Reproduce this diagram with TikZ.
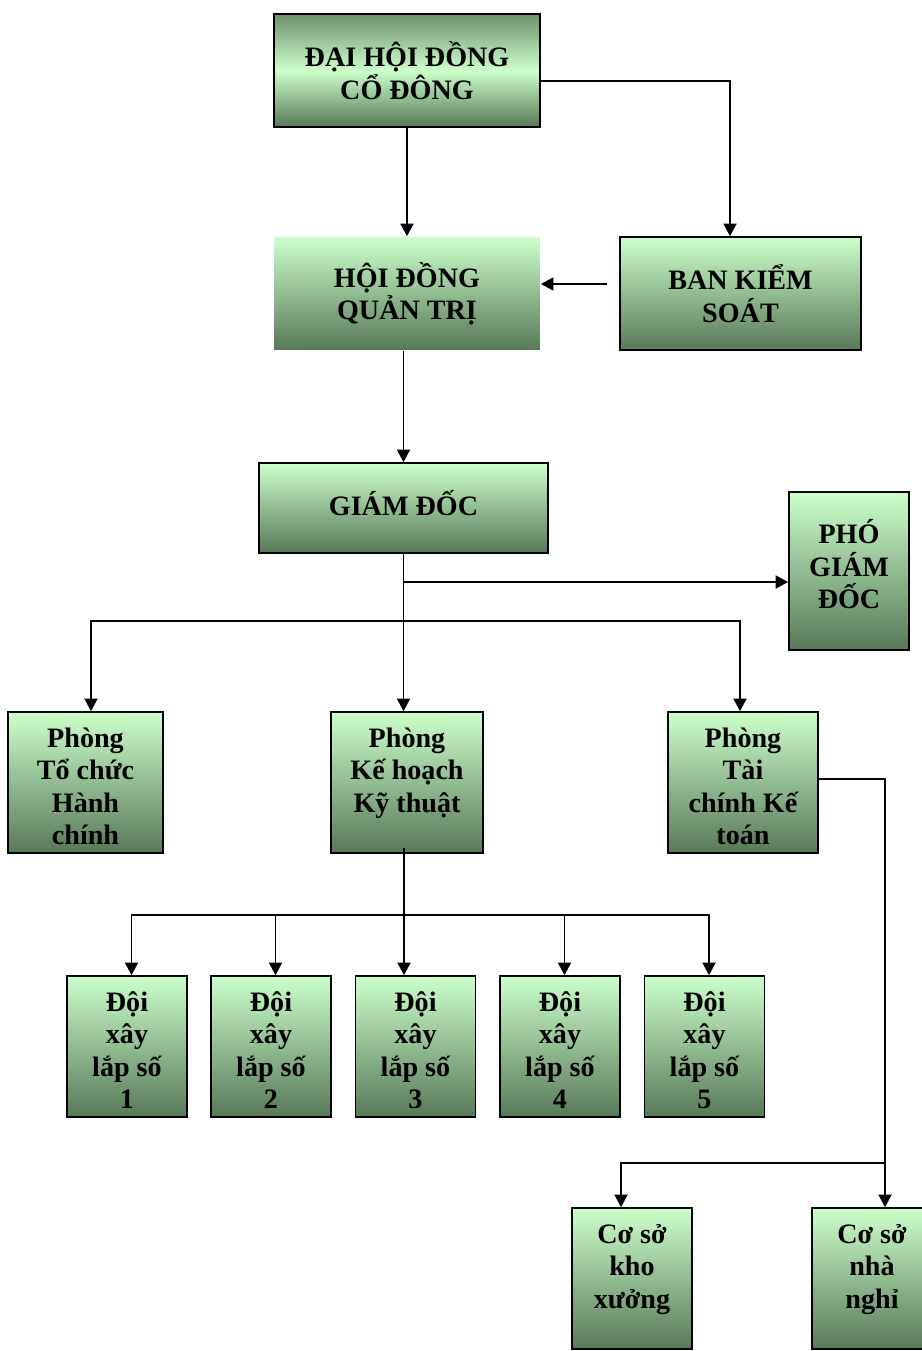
\documentclass[tikz,border=0pt]{standalone}
\usepackage{fontspec}
\setmainfont{Liberation Serif}
\usetikzlibrary{arrows.meta,calc}
\definecolor{gtop}{HTML}{CCFFCC}
\definecolor{gbot}{HTML}{587858}
\definecolor{gedge}{HTML}{6E906E}
\newcommand{\hi}{\rule{0pt}{15.5pt}}
\tikzset{
  box/.style  = {draw, line width=1pt, rectangle, align=center, inner sep=0pt,
                 top color=gtop, bottom color=gbot,
                 font=\fontsize{16}{18.5}\selectfont\bfseries},
  flow/.style = {-{Triangle[length=2.5mm,width=2.6mm]}, line width=0.9pt},
  link/.style = {line width=0.9pt},
}

\begin{document}
\begin{tikzpicture}[x=0.02cm,y=-0.02cm]
\useasboundingbox (0,0) rectangle (922,1351);
\clip (0,0) rectangle (922,1351);
% top levels
\node[box, minimum width=5.32cm, minimum height=2.26cm,
      top color=gedge, bottom color=gbot, middle color=gtop] (dhcd) at (407,70.5) {ĐẠI HỘI ĐỒNG\\CỔ ĐÔNG};
\node[box, draw=none, minimum width=5.32cm, minimum height=2.26cm] (hdqt) at (407,293.5) {HỘI ĐỒNG\\QUẢN TRỊ};
\node[box, minimum width=4.82cm, minimum height=2.26cm] (bks) at (740.5,293.5) {BAN KIỂM\\SOÁT};
\node[box, minimum width=5.78cm, minimum height=1.8cm, text depth=0.2cm] (gd) at (403.5,508) {GIÁM ĐỐC};
\node[box, minimum width=2.4cm, minimum height=3.16cm, text depth=0.28cm] (pgd) at (849,571) {PHÓ\\GIÁM\\ĐỐC};
% phong ban
\node[box, minimum width=3.1cm, minimum height=2.82cm] (tchc) at (85.5,782.5) {\hi Phòng\\Tổ chức\\Hành\\chính};
\node[box, minimum width=3.04cm, minimum height=2.82cm] (khkt) at (407,782.5) {\hi Phòng\\Kế hoạch\\Kỹ thuật\\\mbox{}};
\node[box, minimum width=3cm, minimum height=2.82cm] (tckt) at (743,782.5) {\hi Phòng\\Tài\\chính Kế\\toán};
% doi xay lap
\foreach \i/\x in {1/127,2/271,3/415.5,4/560,5/704.5}
  \node[box, minimum width=2.4cm, minimum height=2.82cm] (doi\i) at (\x,1046.5) {\hi Đội\\xây\\lắp số\\\i};
% co so
\node[box, minimum width=2.4cm, minimum height=2.82cm] (kho) at (632,1278.5) {\hi Cơ sở\\kho\\xưởng\\\mbox{}};
\node[box, minimum width=2.4cm, minimum height=2.82cm] (nha) at (872,1278.5) {\hi Cơ sở\\nhà\\nghỉ\\\mbox{}};

% connectors
\draw[flow] (dhcd.south) -- (hdqt.north);
\draw[flow] ([yshift=-0.21cm]dhcd.east) -| ([xshift=-0.21cm]bks.north);
\draw[flow] ([xshift=-0.24cm,yshift=0.19cm]bks.west) -- ([yshift=0.19cm]hdqt.east);
\draw[flow] (hdqt.south -| gd.north) -- (gd.north);
\draw[flow] (gd.south) -- (gd.south |- khkt.north);
\coordinate (j1) at (403.5,582);
\coordinate (j2) at (403.5,621);
\draw[flow] (j1) -- (j1 -| pgd.west);
\draw[flow] (j2) -| ([xshift=0.11cm]tchc.north);
\draw[flow] (j2) -| ([xshift=-0.06cm]tckt.north);
\draw[flow] ([xshift=-0.06cm,yshift=0.12cm]khkt.south) -- ([xshift=-0.06cm]khkt.south |- doi3.north);
\coordinate (j3) at (404,915);
\foreach \i in {1,2,4,5}
  \draw[flow] (j3) -| ([xshift=0.09cm]doi\i.north);
\draw[link] ([yshift=0.07cm]tckt.east) -| (885,1163) coordinate (j4);
\draw[flow] (j4) -- (j4 |- nha.north);
\draw[flow] (j4) -| ([xshift=-0.22cm]kho.north);
\end{tikzpicture}
\end{document}
